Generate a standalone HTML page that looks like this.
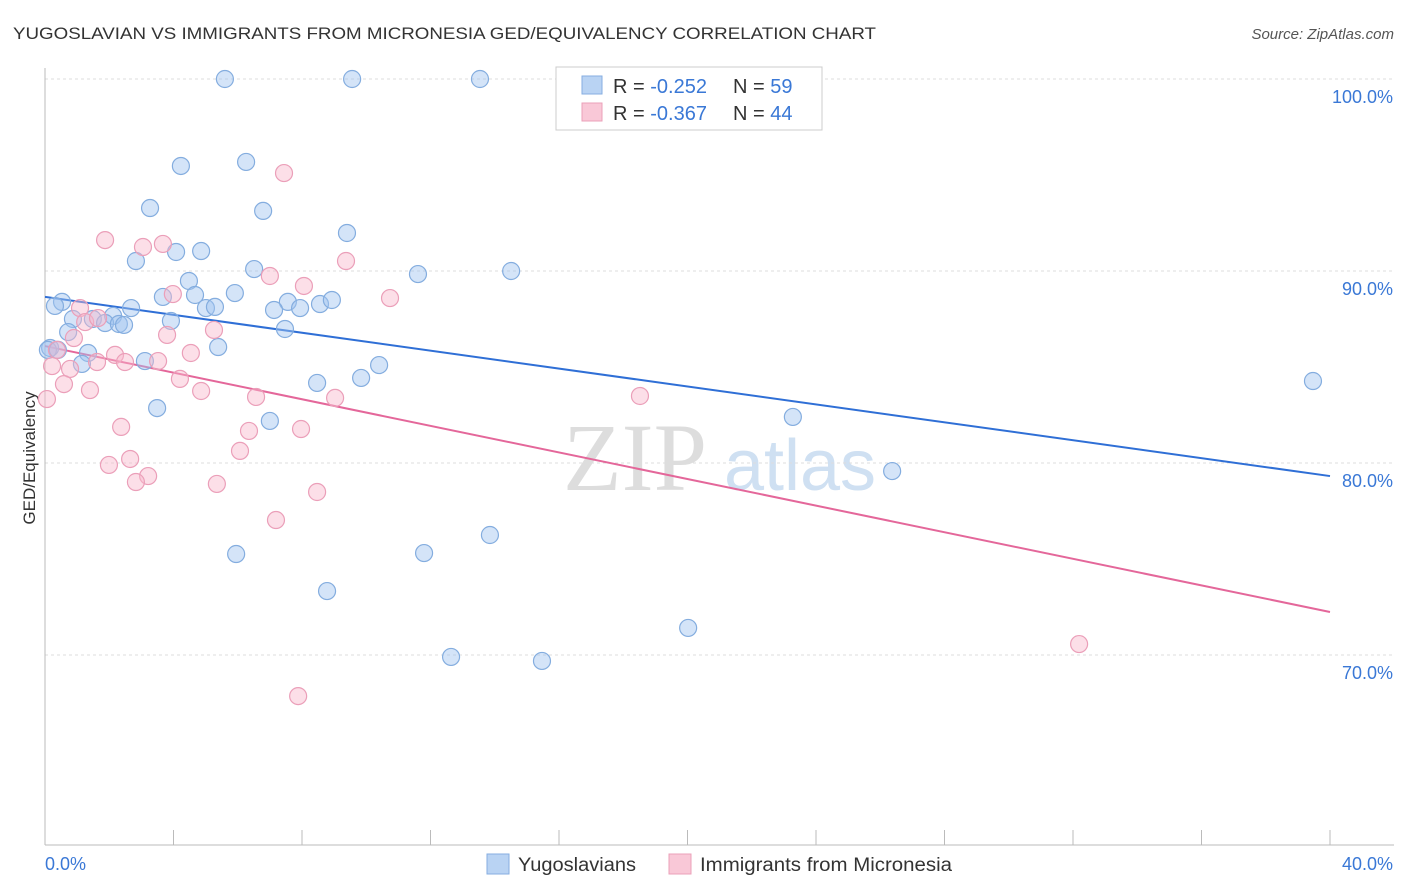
<!DOCTYPE html>
<html><head><meta charset="utf-8">
<style>
body{margin:0;background:#fff;font-family:"Liberation Sans",sans-serif;}
#wrap{position:relative;width:1406px;height:892px;overflow:hidden;}
</style></head>
<body>
<div id="wrap">
<svg id="chart" width="1406" height="892">
<text x="13" y="39" font-size="17" fill="#333" textLength="863" lengthAdjust="spacingAndGlyphs">YUGOSLAVIAN VS IMMIGRANTS FROM MICRONESIA GED/EQUIVALENCY CORRELATION CHART</text>
<text x="1394" y="39" font-size="15" fill="#555" text-anchor="end" font-style="italic">Source: ZipAtlas.com</text>
<text x="35" y="458" font-size="17" fill="#333" text-anchor="middle" transform="rotate(-90 35 458)">GED/Equivalency</text>
<g>
<text x="635" y="490" font-size="96" fill="#ddd" text-anchor="middle" font-family="Liberation Serif,serif">ZIP</text>
<text x="800" y="490" font-size="72" fill="#cfe0f2" text-anchor="middle">atlas</text>
</g>
<g id="grid"></g><g id="axes"></g><g id="lines"></g><g id="pts"></g>
<g>
<rect x="556" y="67" width="266" height="63" fill="#fff" stroke="#ccc"/>
<rect x="582" y="76" width="20" height="18" fill="#b9d3f3" stroke="#86aee0"/>
<rect x="582" y="103" width="20" height="18" fill="#f9c8d7" stroke="#eba0b9"/>
<text x="613" y="93" font-size="20" fill="#333">R = <tspan fill="#3a78d6">-0.252</tspan><tspan x="733">N = </tspan><tspan fill="#3a78d6">59</tspan></text>
<text x="613" y="120" font-size="20" fill="#333">R = <tspan fill="#3a78d6">-0.367</tspan><tspan x="733">N = </tspan><tspan fill="#3a78d6">44</tspan></text>
</g>
<g>
<rect x="487" y="854" width="22" height="20" fill="#b9d3f3" stroke="#86aee0"/>
<text x="518" y="871" font-size="19" fill="#333" textLength="118" lengthAdjust="spacingAndGlyphs">Yugoslavians</text>
<rect x="669" y="854" width="22" height="20" fill="#f9c8d7" stroke="#eba0b9"/>
<text x="700" y="871" font-size="19" fill="#333" textLength="252" lengthAdjust="spacingAndGlyphs">Immigrants from Micronesia</text>
</g>
</svg>
</div>
<script>
const blueX=[5.60,9.56,13.54,4.23,6.26,3.27,6.79,9.40,2.83,4.08,4.86,6.51,11.61,14.51,4.48,3.67,4.67,5.91,0.53,0.31,2.68,5.01,5.29,7.56,8.56,8.93,7.13,7.94,0.87,1.49,2.12,3.92,1.87,2.30,2.46,0.72,7.47,5.39,0.16,1.34,1.15,3.11,10.40,9.84,8.47,3.49,7.00,23.28,39.47,26.37,5.95,11.80,13.85,8.78,12.64,15.47,20.02,0.09,0.40];
const blueY=[100,100,100,95.47,95.68,93.28,93.13,91.98,90.52,90.99,91.04,90.10,89.84,90.0,89.48,88.65,88.75,88.85,88.39,88.18,88.07,88.07,88.13,88.39,88.28,88.49,87.97,88.07,87.50,87.50,87.66,87.40,87.29,87.24,87.19,86.82,86.98,86.04,85.99,85.73,85.16,85.31,85.10,84.43,84.17,82.86,82.19,82.40,84.27,79.58,75.26,75.31,76.25,73.33,69.90,69.69,71.41,85.89,85.89];
const pinkX=[7.44,1.87,3.05,3.67,7.00,9.37,3.98,8.06,10.74,1.09,1.25,1.65,0.90,5.26,3.80,0.37,4.54,2.18,2.49,1.62,3.52,0.22,0.78,4.20,0.59,1.40,4.86,6.57,9.03,18.52,0.06,2.37,6.35,7.97,6.07,2.65,1.99,3.21,2.83,5.35,8.47,7.19,32.19,7.88];
const pinkY=[95.10,91.61,91.25,91.41,89.74,90.52,88.80,89.22,88.59,88.07,87.34,87.55,86.51,86.93,86.67,85.89,85.73,85.63,85.26,85.26,85.31,85.05,84.90,84.38,84.11,83.80,83.75,83.44,83.39,83.49,83.33,81.88,81.67,81.77,80.63,80.21,79.90,79.32,79.01,78.91,78.49,77.03,70.57,67.86];
const blueLine=[88.65,79.32];
const pinkLine=[86.09,72.24];
const yTicks=[100,90,80,70];
const yTickLabels=["100.0%","90.0%","80.0%","70.0%"];
const xTicks=[0,4,8,12,16,20,24,28,32,36,40];

const NS="http://www.w3.org/2000/svg";
const xs=v=>45+v*(1285/40);
const ys=v=>79+(100-v)*19.2;
function mk(tag,attrs,parent){const e=document.createElementNS(NS,tag);for(const k in attrs)e.setAttribute(k,attrs[k]);document.getElementById(parent).appendChild(e);return e;}

yTicks.forEach((t,i)=>{
  const g=mk('line',{x1:45,x2:1394,y1:ys(t),y2:ys(t),stroke:'#ddd','stroke-dasharray':'3,3'},'grid');
  
  
  const l=mk('text',{x:1393,y:ys(t)+24,'font-size':18,fill:'#3a78d6','text-anchor':'end'},'axes');
  l.textContent=yTickLabels[i];
  
  
});
const ax=mk('line',{x1:45,x2:45,y1:68,y2:845,stroke:'#bbb'},'axes');


const bx=mk('line',{x1:45,x2:1394,y1:845,y2:845,stroke:'#bbb'},'axes');


xTicks.forEach(t=>{
  const k=mk('line',{x1:xs(t),x2:xs(t),y1:830,y2:845,stroke:'#bbb'},'axes');
  
  
});
const x0=mk('text',{x:45,y:870,'font-size':18,fill:'#3a78d6'},'axes');x0.textContent='0.0%';


const x1=mk('text',{x:1393,y:870,'font-size':18,fill:'#3a78d6','text-anchor':'end'},'axes');x1.textContent='40.0%';



blueX.forEach((x,i)=>{
  const c=mk('circle',{cx:xs(x),cy:ys(blueY[i]),r:8.5,fill:'rgba(160,195,240,0.45)',stroke:'#84addf','stroke-width':1.2},'pts');
  
  
});
pinkX.forEach((x,i)=>{
  const c=mk('circle',{cx:xs(x),cy:ys(pinkY[i]),r:8.5,fill:'rgba(248,185,205,0.45)',stroke:'#eb9fb9','stroke-width':1.2},'pts');
  
  
});
const bl=mk('line',{x1:xs(0),y1:ys(blueLine[0]),x2:xs(40),y2:ys(blueLine[1]),stroke:'#2f6fd6','stroke-width':2},'lines');


const pl=mk('line',{x1:xs(0),y1:ys(pinkLine[0]),x2:xs(40),y2:ys(pinkLine[1]),stroke:'#e4679a','stroke-width':2},'lines');


</script>
</body></html>
